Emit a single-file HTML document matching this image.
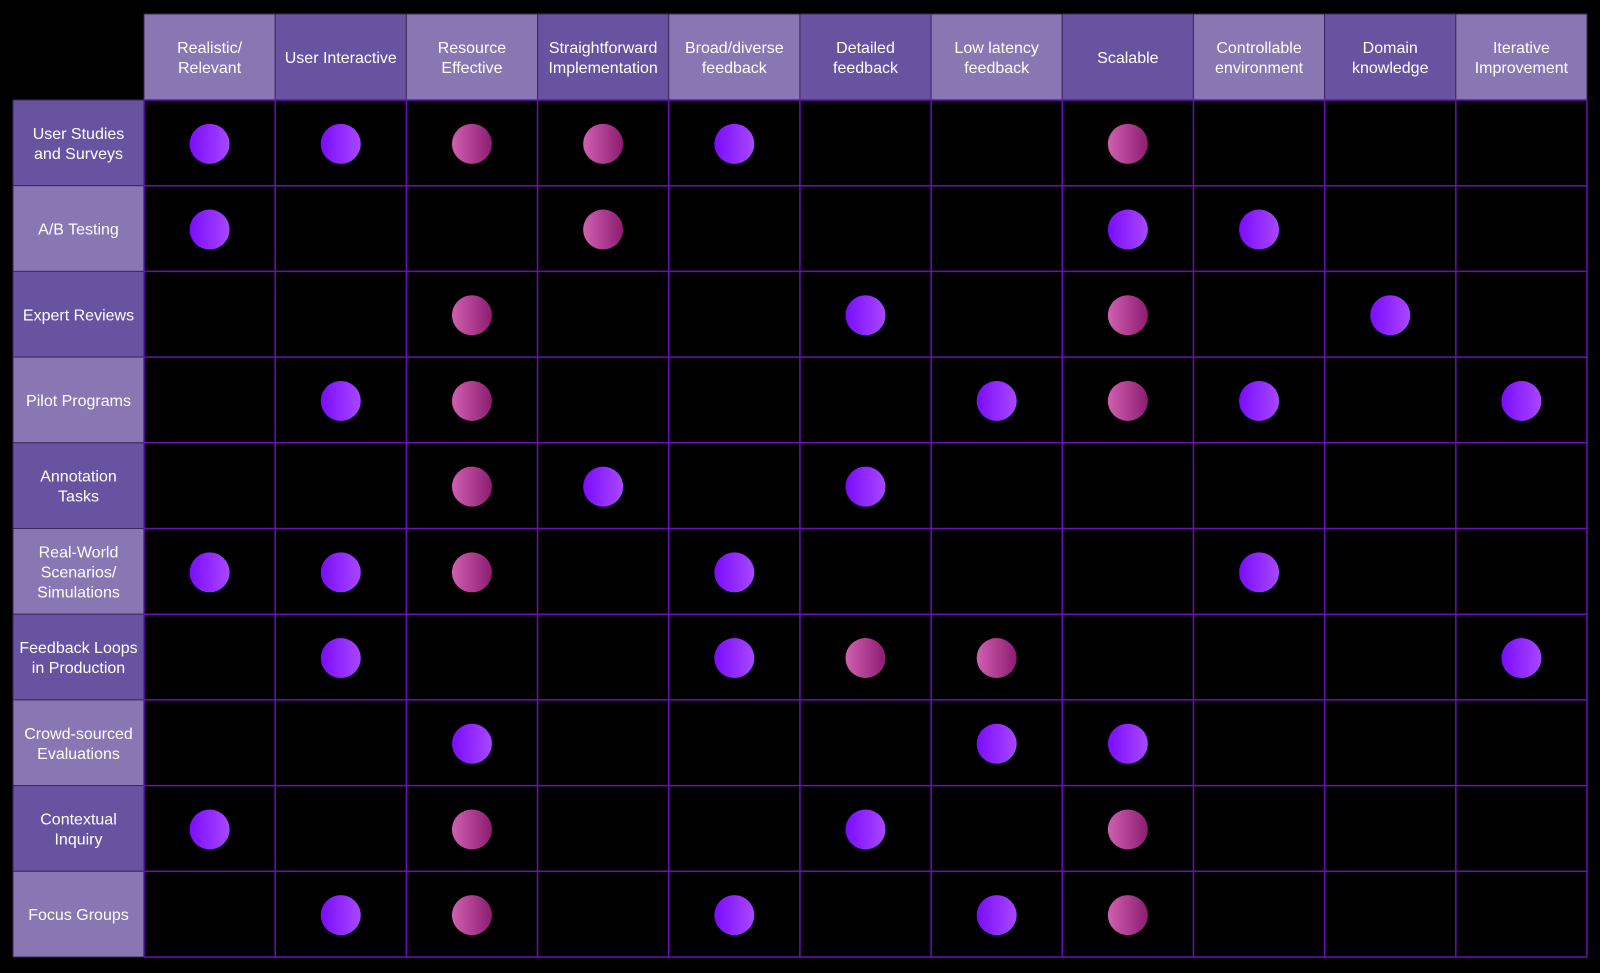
<!DOCTYPE html>
<html><head><meta charset="utf-8"><style>
html,body{margin:0;padding:0;background:#000;width:1600px;height:973px;overflow:hidden}
svg{display:block}
text{font-family:"Liberation Sans",sans-serif;font-size:16px;fill:#fff}
</style></head><body>
<svg id="chart" width="1600" height="973" viewBox="0 0 1600 973">
<defs>
<linearGradient id="gv" x1="0" x2="1" y1="0" y2="0"><stop offset="0" stop-color="#7a0cff"/><stop offset="1" stop-color="#a848ff"/></linearGradient>
<linearGradient id="gp" x1="0" x2="1" y1="0" y2="0"><stop offset="0" stop-color="#d060b0"/><stop offset="1" stop-color="#8c1c70"/></linearGradient>
</defs>
</svg>
<script>
const columns=[["Realistic/","Relevant"],["User Interactive"],["Resource","Effective"],["Straightforward","Implementation"],["Broad/diverse","feedback"],["Detailed","feedback"],["Low latency","feedback"],["Scalable"],["Controllable","environment"],["Domain","knowledge"],["Iterative","Improvement"]];
const rows=[["User Studies","and Surveys"],["A/B Testing"],["Expert Reviews"],["Pilot Programs"],["Annotation","Tasks"],["Real-World","Scenarios/","Simulations"],["Feedback Loops","in Production"],["Crowd-sourced","Evaluations"],["Contextual","Inquiry"],["Focus Groups"]];
// V = violet marker, P = pink marker, . = empty
const matrix=[
"VVPPV..P...",
"V..P...VV..",
"..P..V.P.V.",
".VP...VPV.V",
"..PV.V.....",
"VVP.V...V..",
".V..VPP...V",
"..V...VV...",
"V.P..V.P...",
".VP.V.VP..."];
const svg=document.getElementById('chart');const NS='http://www.w3.org/2000/svg';
const X0=144,Y0=100,CW=(1587-144)/11,RH=(957-100)/10,LX=13,HY=14;
const cx=i=>X0+i*CW, ry=j=>Y0+j*RH;
function el(t,a){const e=document.createElementNS(NS,t);for(const k in a)e.setAttribute(k,a[k]);svg.appendChild(e);return e;}
function label(lines,x,y,name){const lh=20;const t=el('text',{x:x,'text-anchor':'middle'});


lines.forEach((s,k)=>{const ts=document.createElementNS(NS,'tspan');ts.setAttribute('x',x);ts.setAttribute('y',y-(lines.length-1)*lh/2+k*lh+6);ts.textContent=s;t.appendChild(ts);});}
columns.forEach((c,i)=>{const r=el('rect',{x:cx(i),y:HY,width:CW,height:Y0-HY,fill:i%2?'#6853a0':'#8877b3',stroke:'#3a2a5a','stroke-width':1});


label(c,cx(i)+CW/2,(HY+Y0)/2,'column-header-label-'+i);});
rows.forEach((rw,j)=>{const r=el('rect',{x:LX,y:ry(j),width:X0-LX,height:RH,fill:j%2?'#8877b3':'#6853a0',stroke:'#3a2a5a','stroke-width':1});


label(rw,(LX+X0)/2,ry(j)+RH/2,'row-header-label-'+j);});
for(let i=0;i<=11;i++){const l=el('line',{x1:cx(i),x2:cx(i),y1:Y0,y2:957,stroke:'#6a10b8','stroke-width':1.5});

}
for(let j=0;j<=10;j++){const l=el('line',{x1:X0,x2:1587,y1:ry(j),y2:ry(j),stroke:'#6a10b8','stroke-width':1.5});

}
matrix.forEach((row,j)=>{[...row].forEach((ch,i)=>{if(ch==='.')return;
const c=el('circle',{cx:cx(i)+CW/2,cy:ry(j)+RH/2+1,r:20,fill:ch==='V'?'url(#gv)':'url(#gp)'});

});});
</script>
</body></html>
